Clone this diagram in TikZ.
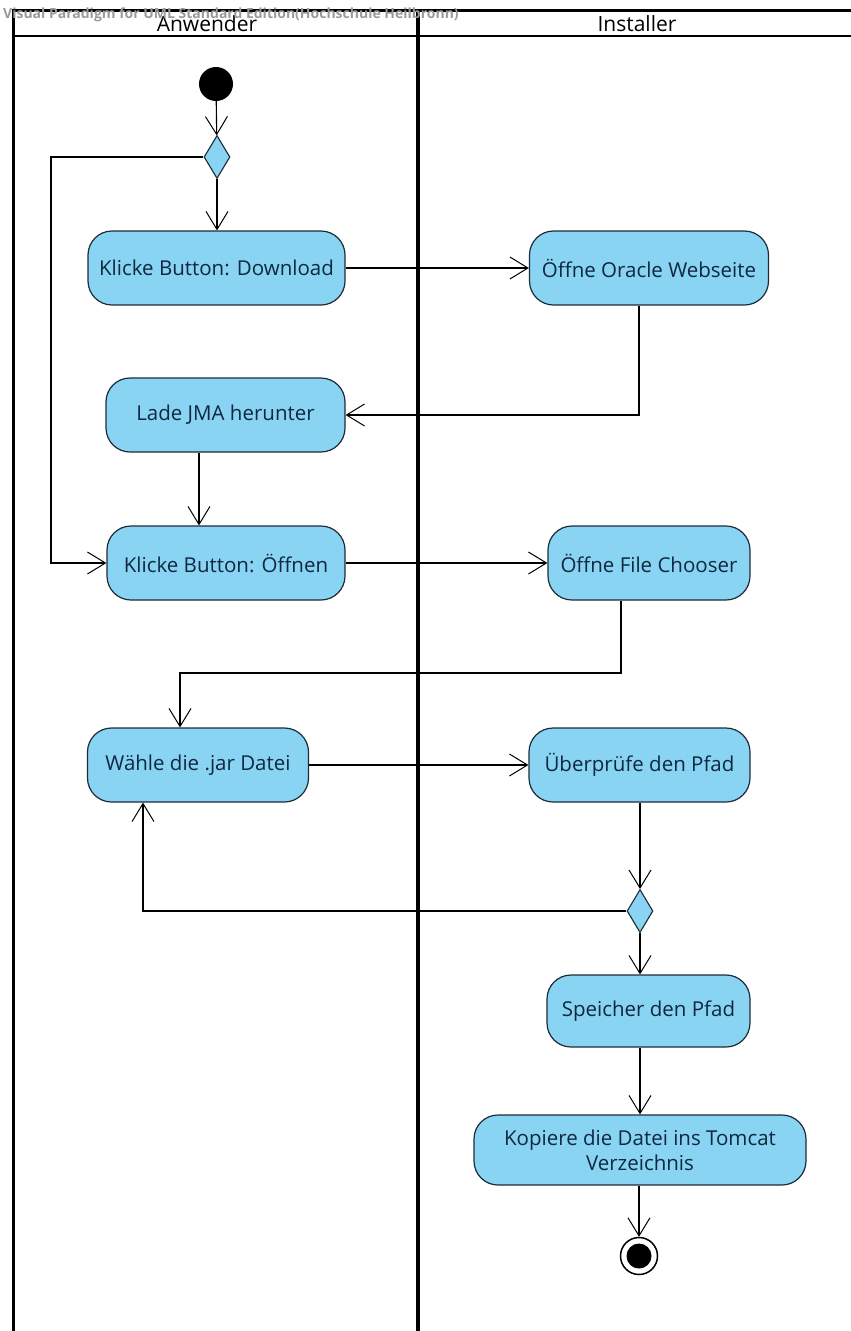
\documentclass[tikz,border=0pt]{standalone}
\usepackage{fontspec}
\setmainfont{Open Sans}
\usetikzlibrary{shapes.geometric,arrows.meta}
\definecolor{actfill}{HTML}{88D4F2}
\definecolor{actline}{HTML}{1E2B38}
\definecolor{acttext}{HTML}{0F2840}
\definecolor{wmark}{HTML}{9A9A9A}
\begin{document}
\begin{tikzpicture}[x=1pt,y=-1pt,
  action/.style={draw=actline, fill=actfill, rounded corners=24pt, line width=1.2pt,
    minimum height=74pt, text=acttext, font=\fontsize{20.5}{25}\selectfont,
    inner sep=0pt, align=center},
  decision/.style={diamond, draw=actline, fill=actfill, line width=1.1pt,
    minimum width=26pt, minimum height=43pt, inner sep=0pt},
  flow/.style={draw=black, line width=1.1pt,
    -{Straight Barb[length=18pt,width=22pt,line width=1pt]}},
  lane/.style={draw=black, line width=2.5pt},
  lanehead/.style={font=\fontsize{21}{24}\selectfont, text=black}
]
\useasboundingbox (0,0) rectangle (851,1331);

% swimlane frame
\draw[lane, line width=3pt] (12,10) -- (851,10);
\draw[lane] (12,36) -- (851,36);
\draw[lane, line width=3pt] (13,10) -- (13,1331);
\draw[lane, line width=4pt] (418,10) -- (418,1331);
\node[lanehead] (laneA) at (207,24) {Anwender};
\node[lanehead] (laneB) at (637,24) {Installer};
\node[anchor=west, text=wmark, font=\bfseries\fontsize{14}{15}\selectfont, inner sep=0pt]
  (vp) at (3,15) {Visual Paradigm for UML Standard Edition(Hochschule Heilbronn)};

% nodes
\node[circle, fill=black, minimum size=34pt, inner sep=0pt] (start) at (216,84) {};
\node[decision] (d1) at (217,157) {};
\node[action, minimum width=257pt] (dl) at (216.5,268) {Klicke Button: Download};
\node[action, minimum width=239pt] (or) at (649,268) {Öffne Oracle Webseite};
\node[action, minimum width=239pt] (lade) at (225.5,415) {Lade JMA herunter};
\node[action, minimum width=238pt] (off) at (226,563) {Klicke Button: Öffnen};
\node[action, minimum width=202pt] (fc) at (649,563) {Öffne File Chooser};
\node[action, minimum width=221pt] (wj) at (198,765) {Wähle die .jar Datei};
\node[action, minimum width=221pt] (ub) at (639.5,765) {Überprüfe den Pfad};
\node[decision] (d2) at (640,911) {};
\node[action, minimum width=203pt, minimum height=72pt] (sp) at (648.5,1011) {Speicher den Pfad};
\node[action, minimum width=332pt, minimum height=70pt] (ko) at (640,1150)
  {Kopiere die Datei ins Tomcat\\Verzeichnis};
\node[circle, draw=black, fill=white, line width=1.5pt, minimum size=37pt, inner sep=0pt]
  (stop) at (639,1256) {};
\fill[black] (stop.center) circle (12.5pt);

% bend points
\coordinate (k0) at (51,157);
\coordinate (kx) at (199,0);
\coordinate (k1) at (621,673);
\coordinate (k2) at (180,673);
\coordinate (k3) at (143,911);
\coordinate (kr) at (639,0);

% control flows
\draw[flow] (start) -- (d1);
\draw[flow] (d1) -- (dl.north -| d1);
\draw[flow] (d1.west) -- (k0) |- (off.west);
\draw[flow] (dl.east) -- (or.west);
\draw[flow] (or.south -| kr) |- (lade.east);
\draw[flow] (lade.south -| kx) -- (off.north -| kx);
\draw[flow] (off.east) -- (fc.west);
\draw[flow] (fc.south -| k1) -- (k1) -- (k2) -- (wj.north -| k2);
\draw[flow] (wj.east) -- (ub.west);
\draw[flow] (ub.south -| d2) -- (d2.north);
\draw[flow] (d2.west) -- (k3) -- (wj.south -| k3);
\draw[flow] (d2.south) -- (sp.north -| d2);
\draw[flow] (sp.south -| d2) -- (ko.north -| d2);
\draw[flow] (ko.south -| stop) -- (stop.north);
\end{tikzpicture}
\end{document}
